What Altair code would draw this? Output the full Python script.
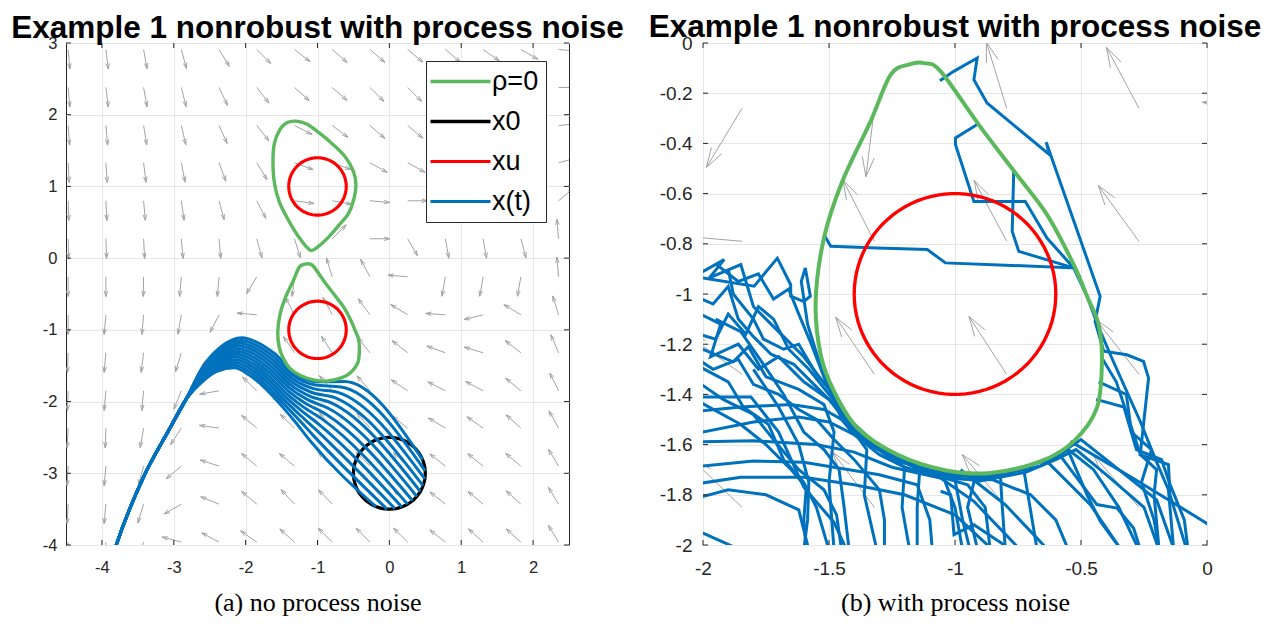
import math
import altair as alt
import pandas as pd

TITLE = "Example 1 nonrobust with process noise"
CAPTION_A = "(a) no process noise"
CAPTION_B = "(b) with process noise"

SERIES = ["ρ=0", "x0", "xu", "x(t)"]
SERIES_COLORS = ["#5cb85c", "#000000", "#ff0000", "#0072bd"]
WIDTHS_A = [3.4, 3.0, 3.4, 1.6]
WIDTHS_B = [4.0, 3.0, 4.0, 1.8]

# ---- vector field (quiver) sampled on a grid: tail positions and directions (deg) ----
QX = [-4.47, -3.945, -3.42, -2.895, -2.37, -1.845, -1.32, -0.795, -0.27, 0.255, 0.78, 1.305, 1.83, 2.355]
QY = [2.91, 2.38, 1.85, 1.33, 0.80, 0.27, -0.26, -0.79, -1.32, -1.85, -2.37, -2.90, -3.43, -3.96]
QANG = [
    [-85, -83, -80, -75, -59, -45, -38, -41, -41, -40, -40, -35, -30, -5],
    [-85, -83, -80, -76, -65, -52, -42, -41, -45, -45, -40, -35, -30, 0],
    [-86, -85, -81, -77, -66, -52, -27, -37, -41, -40, -35, -30, -25, 5],
    [-87, -86, -83, -79, -70, -59, -20, -20, -29, -29, -25, -20, -15, 15],
    [-88, -87, -85, -82, -75, -63, -8, -10, -5, 0, -10, -10, -10, 40],
    [-89, -88, -87, -85, -85, -75, -73, 45, 0, -60, -80, -80, -75, 95],
    [-90, -90, -91, -95, -95, -121, -97, 107, 118, 175, -100, -100, -100, 95],
    [-90, -95, -95, -100, -117, 175, 117, 118, 126, 149, 176, -166, 149, 107],
    [-92, -95, -97, -107, -145, 144, 124, 123, 128, 142, 160, 163, 142, 113],
    [-92, -95, -95, -112, -170, 136, 127, 130, 131, 146, 153, 152, 140, 116],
    [-93, -92, -100, -123, 172, 140, 136, 130, 131, 142, 149, 145, 138, 119],
    [-93, -95, -105, -140, 162, 140, 140, 135, 135, 137, 142, 141, 140, 121],
    [-93, -95, -107, -150, 158, 140, 133, 134, 135, 135, 142, 140, 138, 121],
    [-93, -95, -110, 165, 152, 145, 138, 135, 135, 135, 142, 138, 138, 121],
]
ARROW_LEN = 0.275

# ---- sets ----
X0_CENTER = (0.0, -3.0)
X0_RADIUS = 0.5
XU_CENTERS = [(-1.0, 1.0), (-1.0, -1.0)]
XU_RADIUS = 0.4

GREEN_UPPER = [(-1.10, 0.11), (-1.25, 0.28), (-1.40, 0.52), (-1.53, 0.78), (-1.60, 1.05), (-1.62, 1.35),
               (-1.60, 1.60), (-1.52, 1.80), (-1.42, 1.89), (-1.30, 1.91), (-1.15, 1.87), (-0.98, 1.75),
               (-0.80, 1.60), (-0.62, 1.42), (-0.50, 1.21), (-0.465, 1.02), (-0.50, 0.80), (-0.57, 0.62),
               (-0.70, 0.46), (-0.84, 0.30), (-0.98, 0.17)]
GREEN_LOWER = [(-1.123, -0.080), (-1.057, -0.113), (-0.906, -0.325), (-0.760, -0.518), (-0.635, -0.684),
               (-0.529, -0.883), (-0.476, -1.009), (-0.430, -1.122), (-0.417, -1.268), (-0.437, -1.454),
               (-0.529, -1.587), (-0.661, -1.667), (-0.859, -1.713), (-1.040, -1.702), (-1.229, -1.640),
               (-1.387, -1.534), (-1.480, -1.388), (-1.533, -1.242), (-1.553, -1.030), (-1.520, -0.777),
               (-1.447, -0.551), (-1.335, -0.312), (-1.255, -0.126), (-1.180, -0.085)]

# ---- trajectories without process noise ----
TRAJ_A = [
    [(0.464, -2.813), (-0.63, -1.72), (-1.0, -1.725), (-1.3, -1.62), (-1.6, -1.33), (-1.85, -1.17), (-2.05, -1.11), (-2.35, -1.24), (-2.6, -1.52)],
    [(0.499, -2.967), (-0.673, -1.796), (-1.029, -1.770), (-1.318, -1.652), (-1.609, -1.376), (-1.859, -1.212), (-2.06, -1.148), (-2.355, -1.271), (-2.602, -1.54)],
    [(0.494, -3.079), (-0.716, -1.871), (-1.058, -1.82), (-1.336, -1.690), (-1.618, -1.423), (-1.868, -1.254), (-2.07, -1.186), (-2.359, -1.302), (-2.604, -1.56)],
    [(0.469, -3.173), (-0.758, -1.946), (-1.087, -1.87), (-1.355, -1.728), (-1.627, -1.469), (-1.877, -1.295), (-2.08, -1.225), (-2.364, -1.333), (-2.606, -1.58)],
    [(0.431, -3.254), (-0.801, -2.022), (-1.116, -1.92), (-1.373, -1.767), (-1.636, -1.515), (-1.886, -1.337), (-2.09, -1.263), (-2.368, -1.364), (-2.607, -1.60)],
    [(0.382, -3.323), (-0.844, -2.097), (-1.145, -1.97), (-1.391, -1.809), (-1.646, -1.562), (-1.896, -1.379), (-2.10, -1.301), (-2.373, -1.395), (-2.609, -1.62)],
    [(0.323, -3.382), (-0.886, -2.173), (-1.175, -2.02), (-1.409, -1.851), (-1.655, -1.608), (-1.905, -1.421), (-2.11, -1.339), (-2.377, -1.426), (-2.611, -1.64)],
    [(0.254, -3.431), (-0.929, -2.248), (-1.204, -2.07), (-1.427, -1.893), (-1.664, -1.655), (-1.914, -1.463), (-2.12, -1.377), (-2.382, -1.456), (-2.613, -1.66)],
    [(0.173, -3.469), (-0.972, -2.324), (-1.233, -2.12), (-1.445, -1.935), (-1.673, -1.701), (-1.923, -1.505), (-2.13, -1.416), (-2.386, -1.487), (-2.615, -1.68)],
    [(0.079, -3.494), (-1.015, -2.399), (-1.262, -2.17), (-1.464, -1.976), (-1.682, -1.747), (-1.932, -1.546), (-2.14, -1.454), (-2.391, -1.518), (-2.616, -1.70)],
    [(-0.033, -3.499), (-1.057, -2.475), (-1.291, -2.22), (-1.482, -2.018), (-1.691, -1.794), (-1.941, -1.588), (-2.15, -1.492), (-2.396, -1.549), (-2.618, -1.72)],
    [(-0.187, -3.464), (-1.10, -2.55), (-1.32, -2.27), (-1.50, -2.06), (-1.70, -1.84), (-1.95, -1.63), (-2.16, -1.53), (-2.40, -1.58), (-2.62, -1.74)],
]
TRAJ_A_TAIL = [(-2.83, -1.97), (-3.07, -2.40), (-3.43, -3.07), (-3.80, -4.0), (-3.88, -4.25)]

# ---- trajectories with process noise ----
TRAJ_B = [
    [(-1.06, -0.15), (-1.005, -0.113), (-0.912, -0.06), (-0.925, -0.146), (-0.873, -0.239), (-0.625, -0.445),
     (-0.638, -0.395), (-0.424, -1.009), (-0.444, -1.109), (-0.41, -1.228), (-0.318, -1.242), (-0.252, -1.268),
     (-0.232, -1.335), (-0.265, -1.640), (-0.153, -1.68), (-0.147, -1.80), (-0.08, -2.02)],
    [(-0.912, -0.325), (-0.998, -0.378), (-0.998, -0.405), (-0.925, -0.631), (-0.721, -0.631), (-0.635, -0.777),
     (-0.529, -0.896), (-0.80, -0.885), (-1.038, -0.876), (-1.11, -0.823), (-1.308, -0.817), (-1.493, -0.810),
     (-1.52, -0.764)],
    [(-0.767, -0.511), (-0.773, -0.750), (-0.747, -0.830), (-0.529, -0.896), (-0.476, -1.009), (-0.435, -1.12),
     (-0.38, -1.25), (-0.264, -1.51), (-0.20, -1.67), (-0.153, -1.78), (-0.132, -2.02)],
    [(-0.42, -1.25), (-0.36, -1.35), (-0.264, -1.64), (-0.20, -1.70), (-0.21, -1.80), (-0.19, -2.02)],
    [(-0.542, -1.587), (-0.30, -1.73), (-0.013, -1.906), (0.05, -1.95)],
    [(-0.595, -1.627), (-0.437, -1.839), (-0.357, -1.853), (-0.291, -1.933), (-0.264, -2.02)],
    [(-0.635, -1.667), (-0.463, -1.839), (-0.34, -2.02)],
    [(-0.555, -1.614), (-0.476, -1.80), (-0.423, -1.906), (-0.34, -2.02)],
    [(-0.727, -1.70), (-0.674, -2.02)],
    [(-0.82, -1.72), (-0.813, -1.84), (-0.80, -2.02)],
    [(-0.978, -1.70), (-0.80, -1.84), (-0.63, -2.02)],
    [(-1.057, -1.786), (-1.017, -1.80), (-1.004, -1.959), (-0.925, -1.919), (-0.806, -1.999)],
    [(-1.057, -1.733), (-0.925, -1.826), (-0.74, -2.02)],
    [(-2.05, -0.93), (-1.999, -0.910), (-1.916, -0.863), (-1.975, -0.936), (-1.850, -0.883), (-1.80, -1.05),
     (-1.70, -1.15), (-1.60, -1.25), (-1.50, -1.38), (-1.43, -1.49), (-1.30, -1.61), (-1.10, -1.705),
     (-0.92, -1.73), (-0.95, -1.85), (-0.91, -2.02)],
    [(-2.05, -0.94), (-1.999, -0.936), (-1.797, -0.969), (-1.705, -0.857), (-1.652, -0.963), (-1.652, -1.009),
     (-1.60, -1.03), (-1.574, -1.009), (-1.594, -0.896), (-1.61, -0.95), (-1.585, -1.12), (-1.53, -1.30),
     (-1.47, -1.45), (-1.36, -1.57), (-1.20, -1.67), (-1.05, -1.72), (-1.0, -1.85), (-0.97, -2.02)],
    [(-2.05, -1.06), (-1.93, -1.12), (-1.97, -1.25), (-1.86, -1.20), (-1.78, -1.30), (-1.70, -1.25),
     (-1.60, -1.35), (-1.50, -1.42), (-1.40, -1.55), (-1.35, -1.62), (-1.36, -1.80), (-1.31, -2.02)],
    [(-2.05, -1.20), (-1.88, -1.27), (-1.82, -1.21), (-1.75, -1.33), (-1.62, -1.38), (-1.52, -1.44),
     (-1.48, -1.55), (-1.50, -1.75), (-1.48, -2.02)],
    [(-2.05, -1.27), (-1.90, -1.35), (-1.84, -1.45), (-1.74, -1.52), (-1.68, -1.66), (-1.60, -1.75),
     (-1.55, -1.85), (-1.50, -2.02)],
    [(-2.05, -1.33), (-1.92, -1.42), (-1.80, -1.48), (-1.72, -1.58), (-1.62, -1.70), (-1.52, -1.78),
     (-1.47, -1.88), (-1.45, -2.02)],
    [(-2.05, -1.41), (-1.85, -1.52), (-1.75, -1.60), (-1.65, -1.70), (-1.59, -1.77), (-1.60, -1.90), (-1.59, -2.02)],
    [(-1.95, -1.10), (-1.85, -1.15), (-1.76, -1.28), (-1.68, -1.40), (-1.60, -1.55), (-1.52, -1.62),
     (-1.46, -1.70), (-1.44, -1.85), (-1.42, -2.02)],
    [(-1.90, -0.90), (-1.88, -1.00), (-1.80, -1.10), (-1.76, -1.18), (-1.68, -1.22), (-1.62, -1.20),
     (-1.55, -1.32), (-1.48, -1.40), (-1.42, -1.51), (-1.30, -1.62), (-1.14, -1.70), (-1.15, -1.85), (-1.15, -2.02)],
    [(-2.05, -1.56), (-1.80, -1.51), (-1.62, -1.49), (-1.50, -1.51), (-1.40, -1.56), (-1.23, -1.665),
     (-1.05, -1.72), (-0.86, -1.73), (-0.66, -1.685), (-0.55, -1.62), (-0.45, -1.70), (-0.35, -1.85), (-0.27, -2.02)],
    [(-2.05, -1.59), (-1.80, -1.585), (-1.55, -1.60), (-1.40, -1.63), (-1.25, -1.69), (-1.05, -1.735),
     (-0.85, -1.74), (-0.70, -1.80), (-0.60, -1.90), (-0.55, -2.02)],
    [(-2.05, -1.69), (-1.80, -1.665), (-1.60, -1.67), (-1.42, -1.70), (-1.30, -1.72), (-1.15, -1.76),
     (-1.10, -1.90), (-1.09, -2.02)],
    [(-2.05, -1.93), (-1.85, -2.02)],
    [(-2.05, -1.41), (-1.81, -1.41), (-1.70, -1.55), (-1.60, -1.77), (-1.48, -1.91), (-1.43, -2.02)],
    [(-2.05, -1.76), (-1.85, -1.73), (-1.60, -1.73), (-1.40, -1.76), (-1.20, -1.80), (-1.00, -1.88), (-0.85, -2.02)],
    [(-2.05, -1.15), (-1.95, -1.18), (-1.90, -1.08), (-1.83, -1.16), (-1.78, -1.05), (-1.72, -1.10),
     (-1.66, -1.22), (-1.58, -1.30), (-1.50, -1.40), (-1.44, -1.48), (-1.34, -1.58), (-1.18, -1.68),
     (-1.00, -1.74), (-0.97, -1.90), (-0.94, -2.02)],
    [(-2.05, -1.00), (-1.96, -1.04), (-1.90, -0.97), (-1.86, -1.10), (-1.80, -1.17), (-1.73, -1.24),
     (-1.64, -1.28), (-1.56, -1.36), (-1.49, -1.43), (-1.42, -1.52), (-1.28, -1.63), (-1.10, -1.72),
     (-0.90, -1.745), (-0.72, -1.71), (-0.60, -1.66), (-0.52, -1.62), (-0.40, -1.72), (-0.25, -1.85), (-0.19, -2.02)],
    [(-2.05, -1.24), (-1.96, -1.30), (-1.86, -1.26), (-1.80, -1.36), (-1.70, -1.40), (-1.62, -1.46),
     (-1.55, -1.50), (-1.48, -1.58), (-1.40, -1.66), (-1.30, -1.78), (-1.28, -1.90), (-1.28, -2.02)],
    [(-1.95, -0.88), (-1.86, -0.95), (-1.78, -0.92), (-1.72, -1.02), (-1.66, -0.98), (-1.62, -1.08),
     (-1.57, -1.20), (-1.52, -1.33), (-1.48, -1.42), (-1.45, -1.50), (-1.40, -1.56), (-1.30, -1.64),
     (-1.20, -1.69), (-1.21, -1.85), (-1.18, -2.02)],
    [(-2.05, -1.47), (-1.85, -1.45), (-1.65, -1.44), (-1.52, -1.46), (-1.45, -1.50), (-1.35, -1.59),
     (-1.20, -1.69), (-1.05, -1.73), (-0.95, -1.76), (-0.88, -1.85), (-0.86, -2.02)],
    [(-2.05, -1.82), (-1.90, -1.78), (-1.75, -1.80), (-1.62, -1.86), (-1.58, -2.02)],
    [(-1.80, -1.30), (-1.70, -1.45), (-1.62, -1.60), (-1.58, -1.75), (-1.585, -1.90), (-1.60, -2.02)],
    [(-1.48, -1.41), (-1.40, -1.53), (-1.25, -1.655), (-1.05, -1.71), (-0.85, -1.72), (-0.62, -1.66),
     (-0.50, -1.58), (-0.35, -1.70), (-0.20, -1.82), (-0.13, -2.02)],
    [(-0.44, -1.42), (-0.33, -1.45), (-0.28, -1.62), (-0.18, -1.66), (-0.15, -1.75), (-0.09, -1.90), (-0.075, -2.02)],
    [(-0.43, -1.35), (-0.32, -1.40), (-0.30, -1.55), (-0.22, -1.62), (-0.26, -1.75), (-0.21, -1.90), (-0.19, -2.02)],
]


def circle(cx, cy, r, n=90):
    return [(cx + r * math.cos(2 * math.pi * k / n), cy + r * math.sin(2 * math.pi * k / n)) for k in range(n)]


def paths_df(paths, series):
    rows = []
    for pid, pts in enumerate(paths):
        for i, (x, y) in enumerate(pts):
            rows.append({"x": x, "y": y, "id": pid, "i": i, "series": series})
    return pd.DataFrame(rows)


def quiver_df():
    rows = []
    head = 0.3 * ARROW_LEN
    spread = math.radians(17)
    for j, yv in enumerate(QY):
        for i, xv in enumerate(QX):
            a = math.radians(QANG[j][i])
            hx, hy = xv + ARROW_LEN * math.cos(a), yv + ARROW_LEN * math.sin(a)
            rows.append({"x": xv, "y": yv, "x2": hx, "y2": hy})
            for s in (1, -1):
                b = a + math.pi + s * spread
                rows.append({"x": hx, "y": hy, "x2": hx + head * math.cos(b), "y2": hy + head * math.sin(b)})
    return pd.DataFrame(rows)


LABEL_EXPR = "datum.value < 0 ? '-' + format(-datum.value, '~g') : format(datum.value, '~g')"
FRAME_COLOR = "#262626"


def panel(xdom, ydom, xvals, yvals, caption, widths, sets, traj_df, traj_interp, legend, w, h,
          ylabpad, labsize, titlepad):
    xaxis = alt.Axis(values=xvals, labelExpr=LABEL_EXPR, title=caption, labelPadding=14,
                     labelFontSize=labsize, labelFlush=False,
                     titleFont="Liberation Serif", titleFontSize=26, titleFontWeight="normal",
                     titleColor="black", titlePadding=titlepad)
    yaxis = alt.Axis(values=yvals, labelExpr=LABEL_EXPR, title=None, labelPadding=ylabpad,
                     labelFontSize=labsize, labelFlush=False, minExtent=57, maxExtent=57)
    xscale = alt.Scale(domain=xdom, nice=False, zero=False)
    yscale = alt.Scale(domain=ydom, nice=False, zero=False)
    xenc = alt.X("x:Q", scale=xscale, axis=xaxis)
    yenc = alt.Y("y:Q", scale=yscale, axis=yaxis)
    cenc = alt.Color("series:N", scale=alt.Scale(domain=SERIES, range=SERIES_COLORS), legend=legend)
    wenc = alt.StrokeWidth("series:N", scale=alt.Scale(domain=SERIES, range=widths), legend=legend)

    q = alt.Chart(quiver_df()).mark_rule(clip=True, color="#a3a3a3", strokeWidth=1).encode(
        x=xenc, y=yenc, x2="x2:Q", y2="y2:Q")
    layers = [q]
    if "x0" in sets:
        layers.append(alt.Chart(paths_df([circle(*X0_CENTER, X0_RADIUS)], "x0")).mark_line(
            clip=True, interpolate="linear-closed").encode(
            x=xenc, y=yenc, detail="id:N", order="i:Q", color=cenc, strokeWidth=wenc))
    layers.append(alt.Chart(traj_df).mark_line(clip=True, interpolate=traj_interp).encode(
        x=xenc, y=yenc, detail="id:N", order="i:Q", color=cenc, strokeWidth=wenc))
    greens = [GREEN_LOWER] if "lower_only" in sets else [GREEN_UPPER, GREEN_LOWER]
    layers.append(alt.Chart(paths_df(greens, "ρ=0")).mark_line(
        clip=True, interpolate="cardinal-closed").encode(
        x=xenc, y=yenc, detail="id:N", order="i:Q", color=cenc, strokeWidth=wenc))
    reds = [circle(cx, cy, XU_RADIUS) for (cx, cy) in XU_CENTERS]
    layers.append(alt.Chart(paths_df(reds, "xu")).mark_line(
        clip=True, interpolate="linear-closed").encode(
        x=xenc, y=yenc, detail="id:N", order="i:Q", color=cenc, strokeWidth=wenc))

    # inward box ticks (MATLAB "box on" style) at every tick value, on all four sides
    xt = pd.DataFrame({"x": xvals})
    yt = pd.DataFrame({"y": yvals})
    for yd, off in ((ydom[0], -2.5), (ydom[1], 2.5)):
        layers.append(alt.Chart(xt).mark_tick(orient="vertical", size=5, thickness=1, color=FRAME_COLOR,
                                              yOffset=off, opacity=1).encode(
            x=xenc, y=alt.datum(yd)))
    for xd, off in ((xdom[0], 2.5), (xdom[1], -2.5)):
        layers.append(alt.Chart(yt).mark_tick(orient="horizontal", size=5, thickness=1, color=FRAME_COLOR,
                                              xOffset=off, opacity=1).encode(
            y=yenc, x=alt.datum(xd)))
    return alt.layer(*layers).properties(
        width=w, height=h,
        title=alt.TitleParams(text=TITLE, font="Liberation Sans", fontSize=31.5, fontWeight="bold",
                              color="black", anchor="middle", frame="group", offset=-9))


legend_a = alt.Legend(title=None, orient="none", legendX=360, legendY=18,
                      symbolType="M-3,0H3", symbolSize=400, symbolOffset=14, labelOffset=18,
                      labelFont="Liberation Sans", labelFontSize=27, labelColor="black",
                      rowPadding=12, padding=7, strokeColor="#262626", fillColor="white")

traj_a_paths = [p + TRAJ_A_TAIL for p in TRAJ_A]
left = panel([-4.5, 2.5], [-4, 3], [-4, -3, -2, -1, 0, 1, 2], [-4, -3, -2, -1, 0, 1, 2, 3],
             CAPTION_A, WIDTHS_A, {"x0"}, paths_df(traj_a_paths, "x(t)"), "monotone", legend_a, 503, 502,
             9, 16.5, 14)
right = panel([-2, 0], [-2, 0], [-2, -1.5, -1, -0.5, 0],
              [0, -0.2, -0.4, -0.6, -0.8, -1, -1.2, -1.4, -1.6, -1.8, -2],
              CAPTION_B, WIDTHS_B, {"lower_only"}, paths_df(TRAJ_B, "x(t)"), "linear", None, 504, 502,
              11, 19, 11.5)

chart = alt.hconcat(left, right, spacing=134, bounds="flush").resolve_scale(
    x="independent", y="independent", color="independent", strokeWidth="independent"
).properties(
    padding={"left": 0, "top": 3, "right": 0, "bottom": 0}
).configure_view(stroke=FRAME_COLOR, strokeWidth=1).configure_axis(
    labelFont="Liberation Sans", labelColor="#262626", ticks=False, domain=False,
    gridColor="#e6e6e6", gridWidth=1)

chart.save("out.html", embed_options={"renderer": "svg", "actions": False})
